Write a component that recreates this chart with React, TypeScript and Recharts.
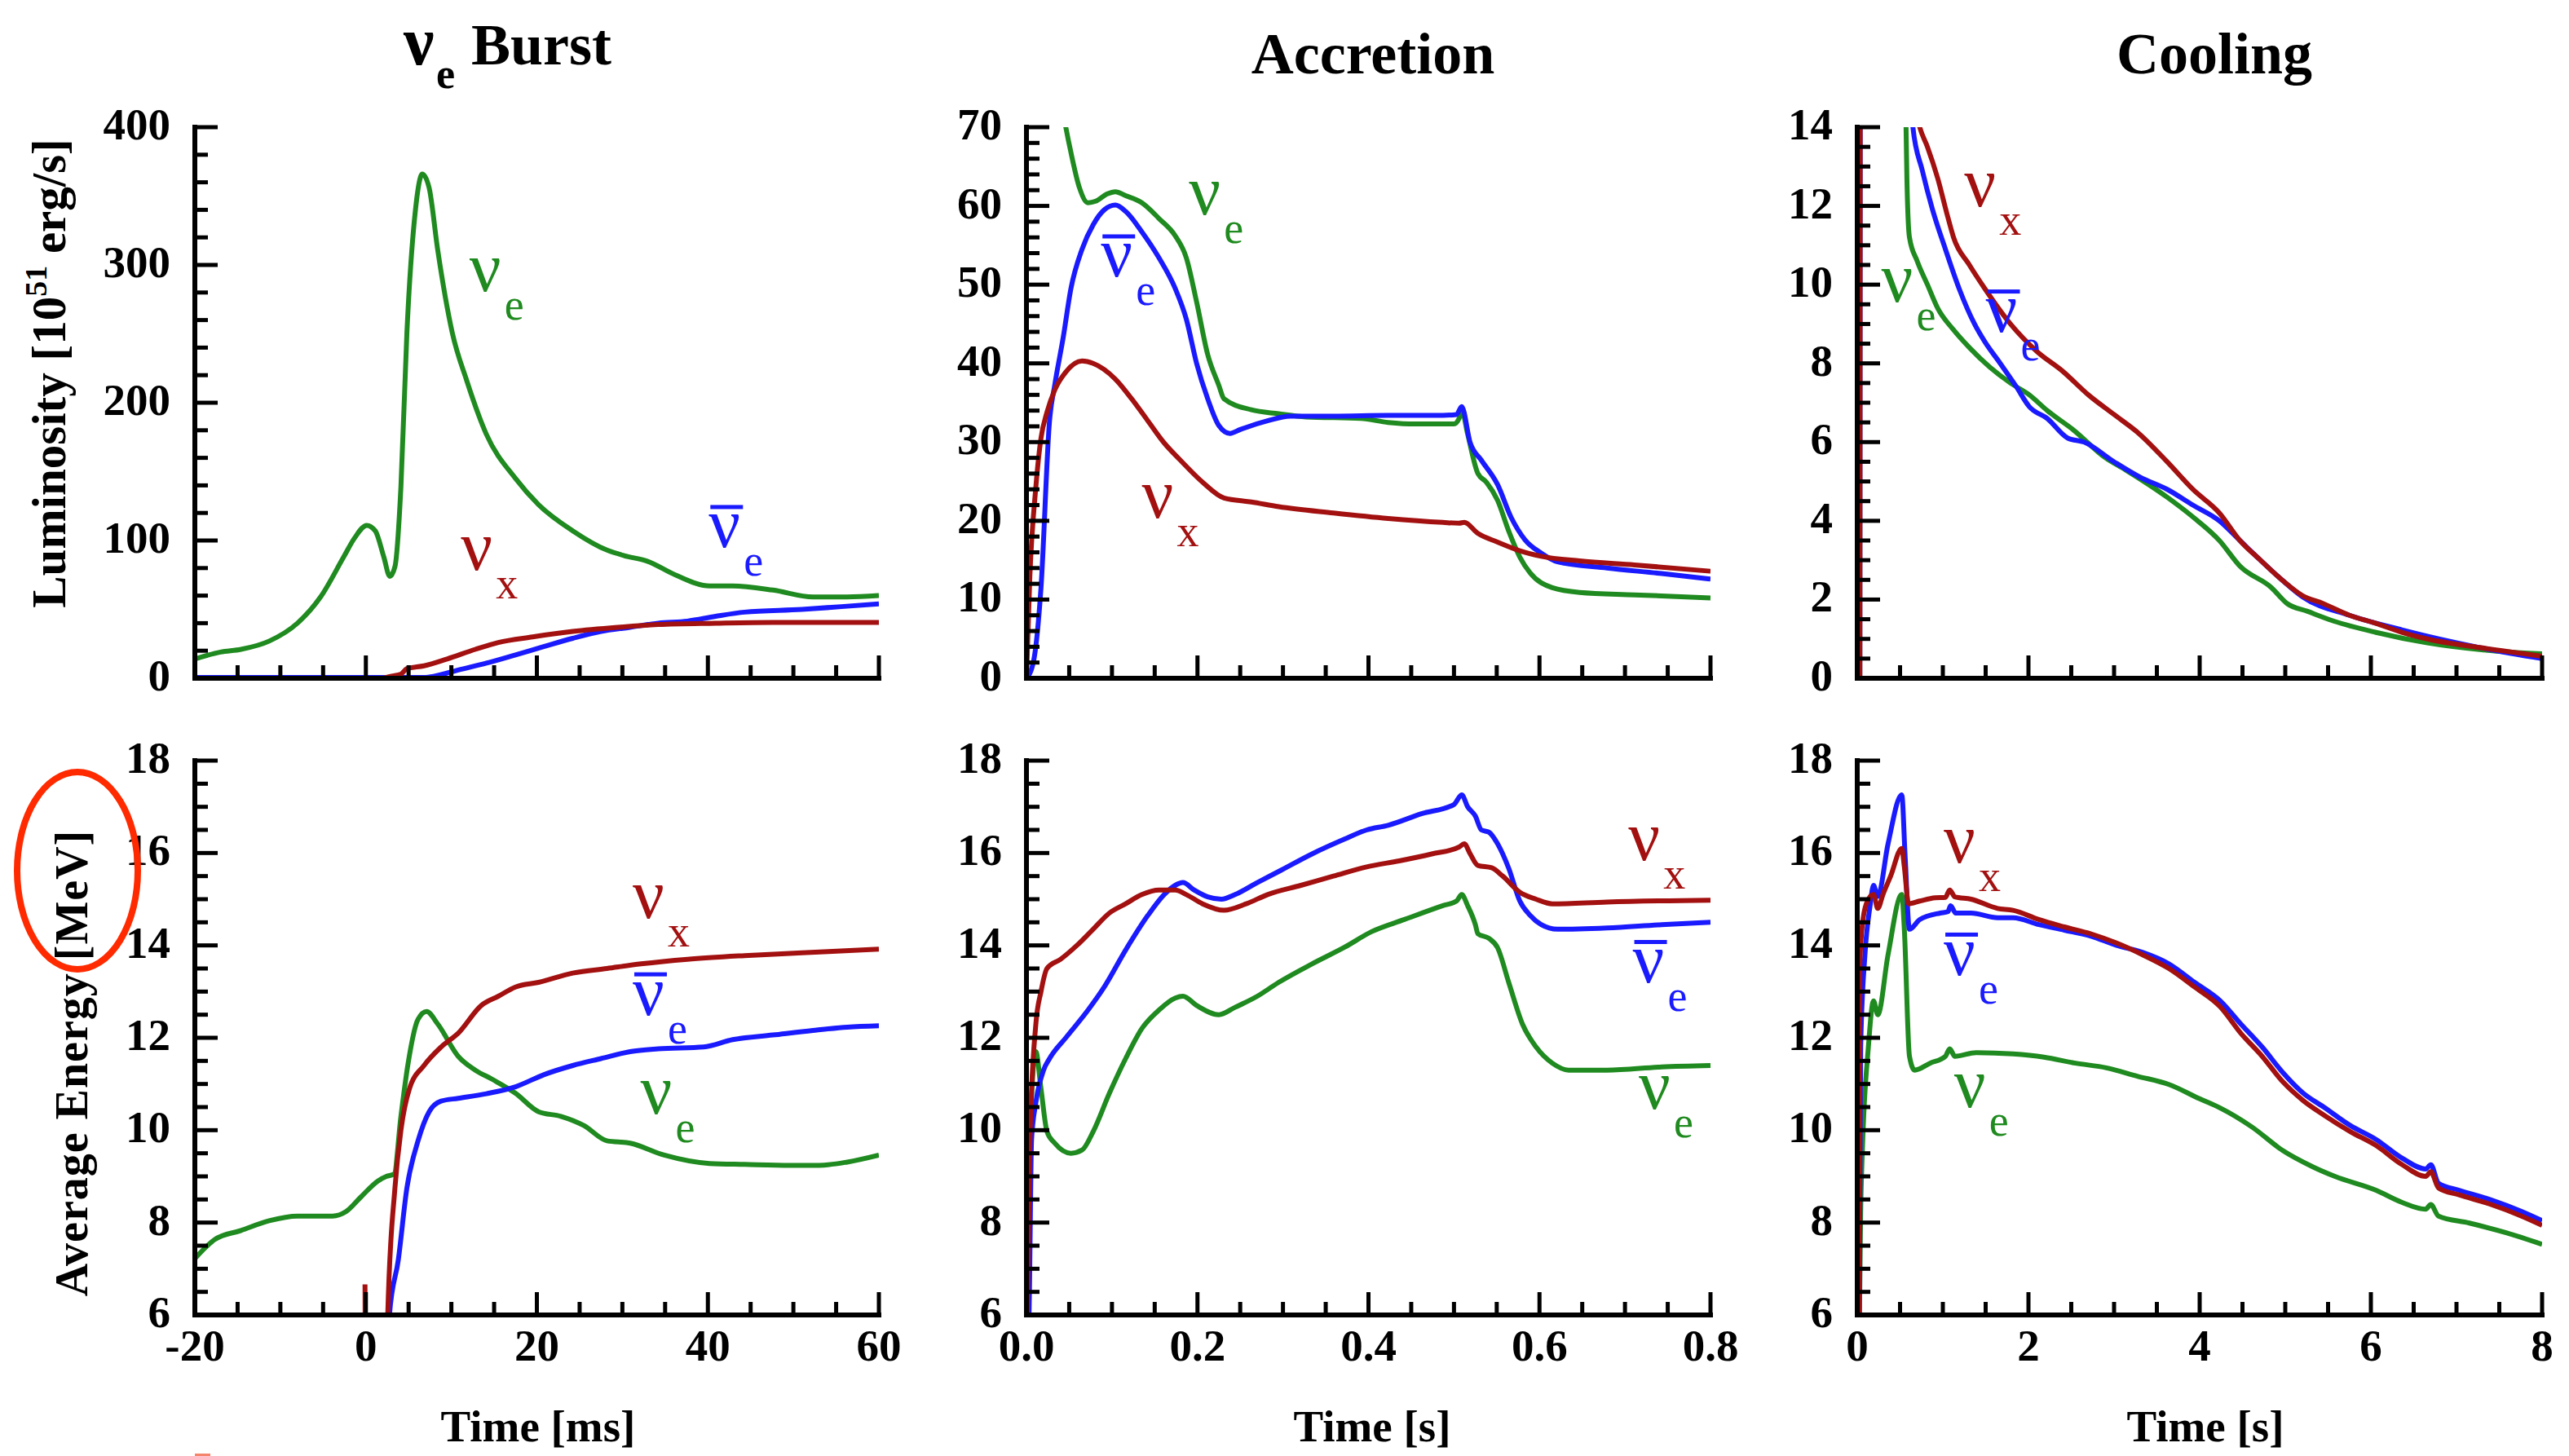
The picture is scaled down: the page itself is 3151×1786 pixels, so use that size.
import React from 'react'
import { LineChart, Line, XAxis, YAxis, ReferenceDot } from 'recharts'

const FONT = '"Liberation Serif", "Times New Roman", serif'
const GREEN = '#1f8a1f'
const BLUE = '#1a1aff'
const RED = '#a31010'

type Pt = [number, number]

// ---- tick positions ----
const burstXTicks = [-20, -15, -10, -5, 0, 5, 10, 15, 20, 25, 30, 35, 40, 45, 50, 55, 60]
const burstXMajor = [-20, 0, 20, 40, 60]
const accXTicks = [0, 0.05, 0.1, 0.15, 0.2, 0.25, 0.3, 0.35, 0.4, 0.45, 0.5, 0.55, 0.6, 0.65, 0.7, 0.75, 0.8]
const accXMajor = [0, 0.2, 0.4, 0.6, 0.8]
const coolXTicks = [0, 0.5, 1, 1.5, 2, 2.5, 3, 3.5, 4, 4.5, 5, 5.5, 6, 6.5, 7, 7.5, 8]
const coolXMajor = [0, 2, 4, 6, 8]

const lumBurstYTicks = [0, 20, 40, 60, 80, 100, 120, 140, 160, 180, 200, 220, 240, 260, 280, 300, 320, 340, 360, 380, 400]
const lumBurstYMajor = [0, 100, 200, 300, 400]
const lumAccYTicks = [0, 2, 4, 6, 8, 10, 12, 14, 16, 18, 20, 22, 24, 26, 28, 30, 32, 34, 36, 38, 40, 42, 44, 46, 48, 50, 52, 54, 56, 58, 60, 62, 64, 66, 68, 70]
const lumAccYMajor = [0, 10, 20, 30, 40, 50, 60, 70]
const lumCoolYTicks = [0, 0.5, 1, 1.5, 2, 2.5, 3, 3.5, 4, 4.5, 5, 5.5, 6, 6.5, 7, 7.5, 8, 8.5, 9, 9.5, 10, 10.5, 11, 11.5, 12, 12.5, 13, 13.5, 14]
const lumCoolYMajor = [0, 2, 4, 6, 8, 10, 12, 14]
const energyYTicks = [6, 6.5, 7, 7.5, 8, 8.5, 9, 9.5, 10, 10.5, 11, 11.5, 12, 12.5, 13, 13.5, 14, 14.5, 15, 15.5, 16, 16.5, 17, 17.5, 18]
const energyYMajor = [6, 8, 10, 12, 14, 16, 18]

// ---- luminosity, burst phase [ms, 10^51 erg/s] ----
const burstLumNuE: Pt[] = [[-20, 14], [-17, 19], [-14.6, 21], [-11.3, 27], [-8, 40], [-5.3, 59], [-2.6, 88], [-1.3, 102], [0.1, 111], [1.1, 107], [2.1, 88], [2.8, 74], [3.4, 81], [4.1, 139], [4.8, 251], [5.8, 340], [6.6, 366], [7.4, 356], [8.4, 311], [10.1, 251], [11.8, 216], [14.1, 177], [17.5, 145], [20.2, 126], [24.2, 107], [28.2, 93], [30.2, 89], [32.9, 85], [36.2, 75], [40.2, 67], [42.9, 67], [47.6, 64], [52.3, 59], [56.3, 59], [60, 60]]
const burstLumNuEBar: Pt[] = [[-20, 0.6], [6.8, 0.6], [8.1, 1.6], [10.8, 6], [14.1, 11], [17.5, 17], [20.8, 23], [24.2, 29], [27.5, 34], [30.9, 37], [34.2, 40], [37.6, 41.5], [40.9, 45], [44.3, 48], [51, 50], [55.6, 52], [60, 54]]
const burstLumNuX: Pt[] = [[2, 0], [3, 1.5], [4.1, 3], [4.8, 7], [6.8, 9], [9.5, 14], [12.8, 21], [15.5, 26], [19.5, 30], [24.2, 34], [29.5, 37], [34.2, 39], [40.9, 40], [47.6, 40.6], [60, 40.6]]

// ---- luminosity, accretion phase [s] ----
const accLumNuE: Pt[] = [[0, 110], [0.046, 70], [0.052, 66.8], [0.062, 62.3], [0.072, 60.4], [0.081, 60.6], [0.094, 61.5], [0.104, 61.8], [0.116, 61.3], [0.135, 60.4], [0.155, 58.4], [0.174, 56.2], [0.187, 53.4], [0.199, 47.8], [0.212, 41.1], [0.225, 37.2], [0.231, 35.5], [0.263, 34.1], [0.295, 33.6], [0.327, 33.2], [0.391, 33.0], [0.423, 32.5], [0.455, 32.3], [0.5, 32.3], [0.506, 33.0], [0.509, 34.1], [0.516, 31.0], [0.528, 26.0], [0.538, 24.9], [0.551, 22.6], [0.564, 18.7], [0.577, 15.4], [0.589, 13.4], [0.615, 11.5], [0.647, 10.9], [0.711, 10.6], [0.8, 10.2]]
const accLumNuEBar: Pt[] = [[0, 0], [0.008, 2], [0.017, 11.5], [0.027, 32.7], [0.033, 37.2], [0.043, 43.3], [0.052, 49.5], [0.065, 54.5], [0.078, 57.6], [0.091, 59.5], [0.104, 60.1], [0.116, 59.3], [0.135, 56.7], [0.155, 53.4], [0.174, 49.5], [0.187, 45.6], [0.199, 40.0], [0.212, 35.5], [0.225, 32.1], [0.238, 31.1], [0.25, 31.6], [0.282, 32.7], [0.308, 33.3], [0.359, 33.3], [0.423, 33.4], [0.487, 33.4], [0.503, 33.5], [0.509, 34.5], [0.519, 29.9], [0.532, 27.7], [0.551, 24.6], [0.567, 20.4], [0.583, 17.6], [0.602, 15.9], [0.621, 14.8], [0.679, 14.0], [0.743, 13.3], [0.8, 12.6]]
const accLumNuX: Pt[] = [[0, 0], [0.004, 13], [0.011, 24.3], [0.017, 30.5], [0.024, 33.8], [0.033, 36.6], [0.046, 38.9], [0.065, 40.3], [0.078, 40.0], [0.104, 38.0], [0.123, 35.5], [0.142, 32.7], [0.161, 29.9], [0.18, 27.7], [0.206, 24.9], [0.231, 22.9], [0.263, 22.4], [0.295, 21.8], [0.359, 21.0], [0.423, 20.3], [0.487, 19.8], [0.506, 19.7], [0.512, 19.8], [0.528, 18.4], [0.551, 17.3], [0.577, 16.2], [0.602, 15.5], [0.647, 14.9], [0.711, 14.4], [0.8, 13.6]]

// ---- luminosity, cooling phase [s] ----
const coolLumNuE: Pt[] = [[0.03, 0], [0.04, 100], [0.3, 34], [0.5, 32.3], [0.55, 20], [0.57, 14], [0.58, 12.7], [0.61, 11.2], [0.7, 10.6], [0.82, 10.0], [0.94, 9.4], [1.125, 8.85], [1.31, 8.4], [1.55, 7.9], [1.79, 7.5], [2.01, 7.2], [2.22, 6.8], [2.53, 6.3], [2.9, 5.6], [3.13, 5.3], [3.62, 4.6], [3.92, 4.1], [4.23, 3.5], [4.47, 2.85], [4.84, 2.3], [5.02, 1.9], [5.26, 1.7], [5.57, 1.45], [6.05, 1.17], [6.66, 0.9], [7.27, 0.73], [8, 0.62]]
const coolLumNuEBar: Pt[] = [[0.03, 0], [0.04, 40], [0.3, 45], [0.5, 33.5], [0.6, 15.9], [0.65, 14], [0.76, 12.9], [0.88, 11.9], [1.03, 10.9], [1.19, 9.9], [1.37, 9.0], [1.49, 8.55], [1.67, 8.0], [1.86, 7.4], [2.01, 6.9], [2.22, 6.6], [2.46, 6.1], [2.65, 6.0], [3.0, 5.5], [3.31, 5.1], [3.62, 4.8], [3.92, 4.4], [4.23, 4.0], [4.47, 3.5], [4.71, 3.0], [4.96, 2.5], [5.2, 2.07], [5.75, 1.6], [6.36, 1.23], [7.27, 0.78], [8, 0.5]]
const coolLumNuX: Pt[] = [[0.03, 0], [0.04, 35], [0.3, 36], [0.5, 19.7], [0.6, 15.5], [0.73, 14], [0.82, 13.5], [0.94, 12.7], [1.06, 11.7], [1.125, 11.2], [1.31, 10.5], [1.49, 9.9], [1.79, 9.0], [2.1, 8.3], [2.4, 7.8], [2.7, 7.2], [3.0, 6.7], [3.3, 6.2], [3.62, 5.5], [3.92, 4.8], [4.23, 4.2], [4.47, 3.5], [4.71, 3.0], [4.96, 2.5], [5.2, 2.1], [5.44, 1.9], [5.75, 1.6], [6.05, 1.4], [6.36, 1.17], [6.66, 1.0], [7.27, 0.78], [8, 0.56]]

// ---- average energy, burst phase [MeV] ----
const burstEnNuE: Pt[] = [[-20, 7.22], [-17.7, 7.63], [-14.6, 7.83], [-11.3, 8.04], [-8, 8.14], [-3.9, 8.14], [-2.3, 8.24], [-0.6, 8.55], [1.4, 8.9], [2.4, 9.0], [3.3, 9.05], [4.1, 10.3], [4.9, 11.4], [6.1, 12.4], [7.1, 12.57], [8.4, 12.3], [10.8, 11.6], [12.8, 11.3], [14.8, 11.1], [17.5, 10.8], [20.2, 10.4], [22.8, 10.3], [25.5, 10.1], [28.2, 9.77], [30.9, 9.72], [34.9, 9.46], [40.2, 9.28], [44.3, 9.26], [49.6, 9.24], [53, 9.24], [56.3, 9.31], [60, 9.46]]
const burstEnNuEBar: Pt[] = [[2.3, 3], [2.76, 6], [3.8, 7.2], [4.8, 8.75], [6.1, 9.77], [7.4, 10.4], [8.8, 10.63], [10.8, 10.69], [14.1, 10.79], [17.5, 10.94], [20.8, 11.2], [24.2, 11.4], [27.5, 11.55], [30.9, 11.7], [34.2, 11.76], [39.5, 11.8], [42.9, 11.96], [47.6, 12.06], [52.3, 12.16], [56.3, 12.23], [60, 12.26]]
const burstEnNuX: Pt[] = [[-0.1, 6.66], [0, 3], [2.2, 3], [2.56, 6], [3.4, 8.75], [4.1, 10], [5.1, 10.9], [6.8, 11.4], [8.8, 11.8], [10.8, 12.1], [13.5, 12.7], [15.5, 12.9], [17.5, 13.1], [20.2, 13.2], [24.2, 13.4], [28.2, 13.5], [32.2, 13.6], [37.6, 13.7], [44.3, 13.78], [51, 13.84], [60, 13.92]]

// ---- average energy, accretion phase ----
const accEnNuE: Pt[] = [[0, 5], [0.001, 6], [0.004, 9.8], [0.011, 11.7], [0.017, 10.9], [0.024, 9.97], [0.033, 9.72], [0.052, 9.5], [0.065, 9.57], [0.078, 9.97], [0.097, 10.8], [0.116, 11.55], [0.135, 12.2], [0.155, 12.6], [0.174, 12.86], [0.183, 12.9], [0.199, 12.7], [0.225, 12.5], [0.244, 12.66], [0.27, 12.9], [0.295, 13.2], [0.334, 13.6], [0.372, 13.96], [0.404, 14.3], [0.442, 14.56], [0.487, 14.86], [0.503, 14.96], [0.509, 15.1], [0.516, 14.86], [0.525, 14.45], [0.528, 14.25], [0.541, 14.15], [0.551, 13.95], [0.564, 13.2], [0.58, 12.3], [0.596, 11.8], [0.615, 11.45], [0.634, 11.3], [0.679, 11.3], [0.743, 11.37], [0.8, 11.4]]
const accEnNuEBar: Pt[] = [[0, 5], [0.003, 6], [0.006, 9.8], [0.011, 10.6], [0.02, 11.3], [0.027, 11.55], [0.046, 12.0], [0.072, 12.6], [0.091, 13.1], [0.116, 13.9], [0.142, 14.65], [0.161, 15.1], [0.174, 15.3], [0.183, 15.36], [0.196, 15.2], [0.212, 15.05], [0.228, 15.0], [0.244, 15.1], [0.27, 15.36], [0.295, 15.6], [0.334, 15.98], [0.372, 16.3], [0.398, 16.5], [0.423, 16.6], [0.462, 16.85], [0.5, 17.05], [0.509, 17.26], [0.516, 17.0], [0.525, 16.8], [0.532, 16.5], [0.541, 16.45], [0.551, 16.2], [0.564, 15.67], [0.577, 14.96], [0.589, 14.65], [0.602, 14.45], [0.621, 14.35], [0.679, 14.38], [0.743, 14.45], [0.8, 14.5]]
const accEnNuX: Pt[] = [[0, 5], [0.001, 6], [0.004, 9.8], [0.011, 12.3], [0.017, 13.0], [0.024, 13.5], [0.04, 13.7], [0.059, 14.0], [0.078, 14.35], [0.097, 14.7], [0.116, 14.9], [0.135, 15.1], [0.155, 15.2], [0.174, 15.2], [0.187, 15.1], [0.206, 14.9], [0.231, 14.76], [0.257, 14.9], [0.282, 15.1], [0.321, 15.3], [0.359, 15.5], [0.398, 15.7], [0.436, 15.83], [0.474, 15.98], [0.506, 16.13], [0.512, 16.2], [0.519, 15.98], [0.528, 15.73], [0.544, 15.68], [0.557, 15.5], [0.577, 15.15], [0.596, 15.0], [0.615, 14.9], [0.679, 14.94], [0.8, 14.98]]

// ---- average energy, cooling phase ----
const coolEnNuE: Pt[] = [[0.02, 5], [0.04, 8.24], [0.06, 9.57], [0.13, 11.8], [0.19, 12.8], [0.24, 12.5], [0.36, 13.8], [0.52, 15.1], [0.55, 14.35], [0.61, 11.6], [0.67, 11.3], [0.85, 11.45], [1.03, 11.6], [1.08, 11.76], [1.14, 11.6], [1.39, 11.68], [1.82, 11.65], [2.18, 11.58], [2.55, 11.45], [2.91, 11.35], [3.27, 11.17], [3.64, 10.99], [4.0, 10.68], [4.24, 10.48], [4.61, 10.07], [4.97, 9.56], [5.33, 9.2], [5.58, 9.0], [6.06, 8.7], [6.36, 8.44], [6.64, 8.29], [6.7, 8.39], [6.79, 8.14], [7.15, 7.99], [7.58, 7.78], [8, 7.53]]
const coolEnNuEBar: Pt[] = [[0.02, 5], [0.04, 11.8], [0.09, 13.8], [0.15, 14.86], [0.19, 15.3], [0.24, 15.06], [0.36, 16.2], [0.52, 17.26], [0.56, 15.9], [0.61, 14.35], [0.73, 14.56], [0.97, 14.7], [1.06, 14.73], [1.09, 14.86], [1.15, 14.7], [1.33, 14.7], [1.64, 14.6], [1.82, 14.6], [2.12, 14.45], [2.42, 14.33], [2.73, 14.2], [3.03, 14.0], [3.33, 13.85], [3.64, 13.6], [3.94, 13.2], [4.24, 12.8], [4.48, 12.3], [4.73, 11.8], [4.97, 11.25], [5.21, 10.8], [5.45, 10.5], [5.76, 10.1], [6.06, 9.8], [6.36, 9.4], [6.64, 9.16], [6.7, 9.25], [6.79, 8.85], [7.03, 8.7], [7.39, 8.5], [7.76, 8.24], [8, 8.04]]
const coolEnNuX: Pt[] = [[0.02, 5], [0.03, 13.6], [0.07, 14.6], [0.13, 15.0], [0.19, 15.1], [0.24, 14.8], [0.3, 15.1], [0.39, 15.5], [0.52, 16.1], [0.55, 15.7], [0.6, 14.9], [0.73, 14.96], [0.91, 15.03], [1.03, 15.04], [1.08, 15.2], [1.14, 15.05], [1.33, 15.0], [1.64, 14.8], [1.82, 14.76], [2.12, 14.56], [2.42, 14.4], [2.73, 14.25], [3.03, 14.05], [3.33, 13.8], [3.64, 13.5], [3.94, 13.1], [4.24, 12.67], [4.48, 12.1], [4.73, 11.6], [4.97, 11.05], [5.21, 10.64], [5.45, 10.33], [5.76, 9.97], [6.06, 9.67], [6.36, 9.26], [6.64, 9.0], [6.7, 9.1], [6.79, 8.75], [7.03, 8.6], [7.39, 8.4], [7.76, 8.14], [8, 7.94]]

// curve labels: [x, y, subscript, antineutrino, colour]
type Lbl = [number, number, string, boolean, string]
const burstLumLabels: Lbl[] = [[12.1, 281, 'e', false, GREEN], [11.1, 78.5, 'x', false, RED], [40.1, 95, 'e', true, BLUE]]
const accLumLabels: Lbl[] = [[0.19, 58.9, 'e', false, GREEN], [0.087, 51, 'e', true, BLUE], [0.135, 20.4, 'x', false, RED]]
const coolLumLabels: Lbl[] = [[1.25, 12.0, 'x', false, RED], [0.28, 9.56, 'e', false, GREEN], [1.5, 8.8, 'e', true, BLUE]]
const burstEnLabels: Lbl[] = [[31.2, 14.6, 'x', false, RED], [31.2, 12.5, 'e', true, BLUE], [32.1, 10.36, 'e', false, GREEN]]
const accEnLabels: Lbl[] = [[0.704, 15.85, 'x', false, RED], [0.709, 13.2, 'e', true, BLUE], [0.716, 10.47, 'e', false, GREEN]]
const coolEnLabels: Lbl[] = [[1.01, 15.8, 'x', false, RED], [1.01, 13.36, 'e', true, BLUE], [1.13, 10.5, 'e', false, GREEN]]

const PAD_L = 140
const PAD_T = 40
const PAD_R = 40
const PAD_B = 100
const MAJOR_LEN = 28
const MINOR_LEN = 16
const frameLine = { stroke: '#000', strokeWidth: 6, strokeLinecap: 'square' as const }

const isMajor = (v: number, majors: number[]) => majors.some(m => Math.abs(m - v) < 1e-6)
const toPts = (arr: Pt[]) => arr.map(([x, y]) => ({ x, y }))

const makeTick = (side: string, majors: number[], fmt?: (v: number) => string) => (props: any) => {
  const { x, y, payload } = props
  const v = payload.value
  const major = isMajor(v, majors)
  const len = major ? MAJOR_LEN : MINOR_LEN
  const ln = { stroke: '#000', strokeWidth: 5 }
  let line = null
  let label = null
  if (side === 'bottom') {
    line = <line x1={x} y1={y} x2={x} y2={y - len} {...ln} />
    if (fmt && major) label = <text x={x} y={y + 56} textAnchor="middle" fontSize={55} fontWeight="bold" fontFamily={FONT} fill="#000">{fmt(v)}</text>
  } else if (side === 'top') {
    line = <line x1={x} y1={y} x2={x} y2={y + len} {...ln} />
  } else if (side === 'left') {
    line = <line x1={x} y1={y} x2={x + len} y2={y} {...ln} />
    if (fmt && major) label = <text x={x - 30} y={y + 15} textAnchor="end" fontSize={55} fontWeight="bold" fontFamily={FONT} fill="#000">{fmt(v)}</text>
  } else {
    line = <line x1={x} y1={y} x2={x - len} y2={y} {...ln} />
  }
  return <g>{line}{label}</g>
}

const NuMark = ({ cx, cy, sub, bar, color }: any) => (
  <g>
    {bar && <rect x={cx + 2} y={cy - 52} width={40} height={5} fill={color} />}
    <text x={cx} y={cy} fontSize={86} fontFamily={FONT} fill={color}>ν</text>
    <text x={cx + 43} y={cy + 35} fontSize={54} fontFamily={FONT} fill={color}>{sub}</text>
  </g>
)

interface PanelProps {
  left: number
  top: number
  w: number
  h: number
  xDomain: [number, number]
  xTicks: number[]
  xMajor: number[]
  xFmt?: (v: number) => string
  yDomain: [number, number]
  yTicks: number[]
  yMajor: number[]
  nuE: Pt[]
  nuEBar: Pt[]
  nuX: Pt[]
  labels: Lbl[]
}

const Panel = (p: PanelProps) => (
  <div style={{ position: 'absolute', left: p.left - PAD_L, top: p.top - PAD_T }}>
    <LineChart width={p.w + PAD_L + PAD_R} height={p.h + PAD_T + PAD_B} margin={{ top: PAD_T, right: PAD_R, bottom: 0, left: 0 }}>
      <XAxis xAxisId="b" type="number" dataKey="x" domain={p.xDomain} allowDataOverflow ticks={p.xTicks} interval={0}
        height={PAD_B} tickSize={0} tickMargin={0} tickLine={false} axisLine={frameLine} tick={makeTick('bottom', p.xMajor, p.xFmt)} />
      <XAxis xAxisId="t" orientation="top" type="number" dataKey="x" domain={p.xDomain} allowDataOverflow ticks={p.xTicks} interval={0}
        height={0} tickSize={0} tickMargin={0} tickLine={false} axisLine={frameLine} tick={makeTick('top', p.xMajor)} />
      <YAxis yAxisId="l" type="number" domain={p.yDomain} allowDataOverflow ticks={p.yTicks} interval={0}
        width={PAD_L} tickSize={0} tickMargin={0} tickLine={false} axisLine={frameLine} tick={makeTick('left', p.yMajor, v => String(v))} />
      <YAxis yAxisId="r" orientation="right" type="number" domain={p.yDomain} allowDataOverflow ticks={p.yTicks} interval={0}
        width={0} tickSize={0} tickMargin={0} tickLine={false} axisLine={frameLine} tick={makeTick('right', p.yMajor)} />
      <Line xAxisId="b" yAxisId="l" data={toPts(p.nuE)} dataKey="y" type="monotone" stroke={GREEN} strokeWidth={6} dot={false} activeDot={false} isAnimationActive={false} />
      <Line xAxisId="b" yAxisId="l" data={toPts(p.nuEBar)} dataKey="y" type="monotone" stroke={BLUE} strokeWidth={6} dot={false} activeDot={false} isAnimationActive={false} />
      <Line xAxisId="b" yAxisId="l" data={toPts(p.nuX)} dataKey="y" type="monotone" stroke={RED} strokeWidth={6} dot={false} activeDot={false} isAnimationActive={false} />
      {p.labels.map(([x, y, sub, bar, color], i) => (
        <ReferenceDot key={i} xAxisId="b" yAxisId="l" x={x} y={y} r={0} ifOverflow="visible"
          shape={(s: any) => <NuMark cx={s.cx} cy={s.cy} sub={sub} bar={bar} color={color} />} />
      ))}
    </LineChart>
  </div>
)

const fmtInt = (v: number) => String(v)
const fmtOne = (v: number) => v.toFixed(1)

const COLS = [239, 1259, 2278]
const WIDTHS = [839, 839, 840]
const ROW_TOP = [156, 933]
const ROW_H = [676, 680]

const App = () => (
  <div style={{ position: 'absolute', left: 0, top: 0, width: 3151, height: 1786, background: '#fff', overflow: 'hidden' }}>
    <Panel left={COLS[0]} top={ROW_TOP[0]} w={WIDTHS[0]} h={ROW_H[0]} xDomain={[-20, 60]} xTicks={burstXTicks} xMajor={burstXMajor}
      yDomain={[0, 400]} yTicks={lumBurstYTicks} yMajor={lumBurstYMajor} nuE={burstLumNuE} nuEBar={burstLumNuEBar} nuX={burstLumNuX} labels={burstLumLabels} />
    <Panel left={COLS[1]} top={ROW_TOP[0]} w={WIDTHS[1]} h={ROW_H[0]} xDomain={[0, 0.8]} xTicks={accXTicks} xMajor={accXMajor}
      yDomain={[0, 70]} yTicks={lumAccYTicks} yMajor={lumAccYMajor} nuE={accLumNuE} nuEBar={accLumNuEBar} nuX={accLumNuX} labels={accLumLabels} />
    <Panel left={COLS[2]} top={ROW_TOP[0]} w={WIDTHS[2]} h={ROW_H[0]} xDomain={[0, 8]} xTicks={coolXTicks} xMajor={coolXMajor}
      yDomain={[0, 14]} yTicks={lumCoolYTicks} yMajor={lumCoolYMajor} nuE={coolLumNuE} nuEBar={coolLumNuEBar} nuX={coolLumNuX} labels={coolLumLabels} />
    <Panel left={COLS[0]} top={ROW_TOP[1]} w={WIDTHS[0]} h={ROW_H[1]} xDomain={[-20, 60]} xTicks={burstXTicks} xMajor={burstXMajor} xFmt={fmtInt}
      yDomain={[6, 18]} yTicks={energyYTicks} yMajor={energyYMajor} nuE={burstEnNuE} nuEBar={burstEnNuEBar} nuX={burstEnNuX} labels={burstEnLabels} />
    <Panel left={COLS[1]} top={ROW_TOP[1]} w={WIDTHS[1]} h={ROW_H[1]} xDomain={[0, 0.8]} xTicks={accXTicks} xMajor={accXMajor} xFmt={fmtOne}
      yDomain={[6, 18]} yTicks={energyYTicks} yMajor={energyYMajor} nuE={accEnNuE} nuEBar={accEnNuEBar} nuX={accEnNuX} labels={accEnLabels} />
    <Panel left={COLS[2]} top={ROW_TOP[1]} w={WIDTHS[2]} h={ROW_H[1]} xDomain={[0, 8]} xTicks={coolXTicks} xMajor={coolXMajor} xFmt={fmtInt}
      yDomain={[6, 18]} yTicks={energyYTicks} yMajor={energyYMajor} nuE={coolEnNuE} nuEBar={coolEnNuEBar} nuX={coolEnNuX} labels={coolEnLabels} />

    <svg width={3151} height={1786} style={{ position: 'absolute', left: 0, top: 0, pointerEvents: 'none' }} fontFamily={FONT}>
      {/* panel titles */}
      <text x={495} y={79} fontSize={84} fontWeight="bold">ν</text>
      <text x={535} y={108} fontSize={52} fontWeight="bold">e</text>
      <text x={578} y={79} fontSize={72} fontWeight="bold">Burst</text>
      <text x={1684} y={90} fontSize={72} fontWeight="bold" textAnchor="middle">Accretion</text>
      <text x={2716} y={90} fontSize={72} fontWeight="bold" textAnchor="middle">Cooling</text>

      {/* axis titles */}
      <text transform="translate(80,458) rotate(-90)" fontSize={59} fontWeight="bold" textAnchor="middle">
        Luminosity [10<tspan dy={-23} fontSize={38}>51</tspan><tspan dy={23}> erg/s]</tspan>
      </text>
      <text transform="translate(107,1304) rotate(-90)" fontSize={56} fontWeight="bold" textAnchor="middle" letterSpacing={1}>
        Average Energy [MeV]
      </text>
      <text x={660} y={1768} fontSize={55} fontWeight="bold" textAnchor="middle">Time [ms]</text>
      <text x={1683} y={1768} fontSize={55} fontWeight="bold" textAnchor="middle">Time [s]</text>
      <text x={2705} y={1768} fontSize={55} fontWeight="bold" textAnchor="middle">Time [s]</text>

      {/* red annotation */}
      <ellipse cx={95} cy={1068} rx={74} ry={121} fill="none" stroke="#ff2a00" strokeWidth={8} />
      <rect x={239} y={1783} width={19} height={3} fill="#f4846c" />
    </svg>
  </div>
)

export default App
